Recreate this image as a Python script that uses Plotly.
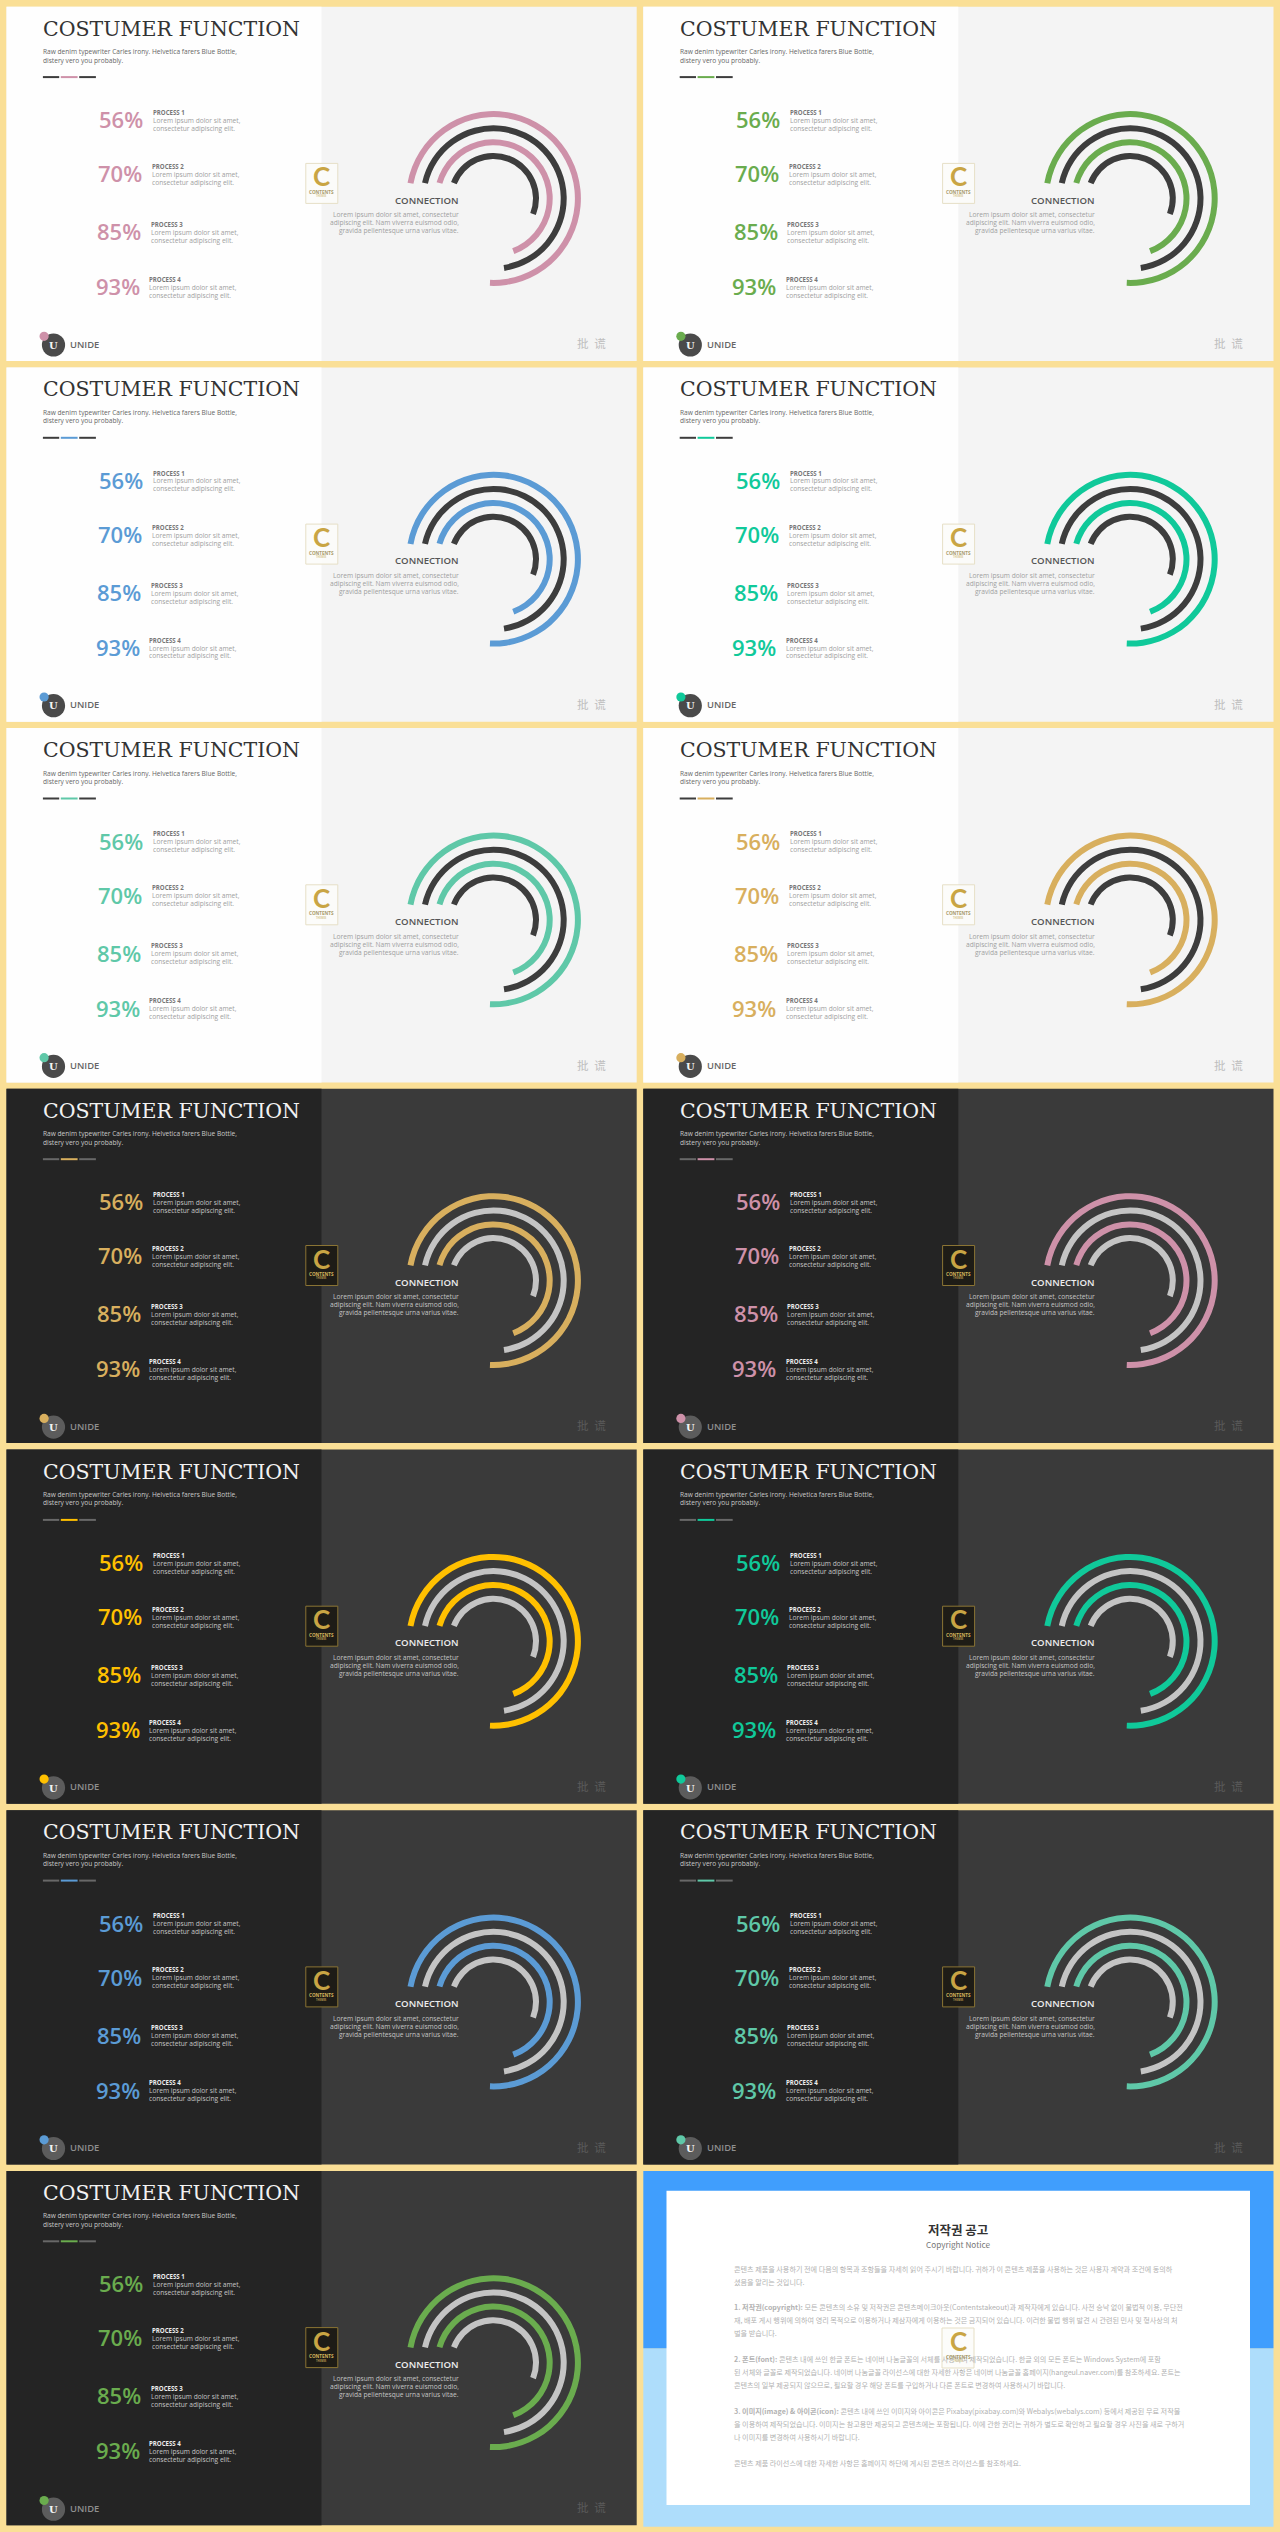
import plotly.graph_objects as go

W, H = 1280, 2532

# ---------- data ----------
title_text = "COSTUMER FUNCTION"
subtitle_lines = ["Raw denim typewriter Carles irony. Helvetica farers Blue Bottle,",
                  "distery vero you probably."]
percents = ["56%", "70%", "85%", "93%"]
process_labels = ["PROCESS 1", "PROCESS 2", "PROCESS 3", "PROCESS 4"]
process_body = ["Lorem ipsum dolor sit amet,", "consectetur adipiscing elit."]
connection_title = "CONNECTION"
connection_body = ["Lorem ipsum dolor sit amet, consectetur",
                   "adipiscing elit. Nam viverra euismod odio,",
                   "gravida pellentesque urna varius vitae."]
brand = "UNIDE"
corner_text = "批\u2002谎"

# rings, outermost first: radius, start angle (deg clockwise from top), sweep (deg)
ring_radius = [84.4, 70.2, 56.2, 42.5]
ring_start = [-79.6, -77.4, -74.0, -68.8]
ring_sweep = [262.0, 248.8, 233.4, 180.2]

panel_accent = ["#CE91A9", "#6AAC4E", "#5B9BD5", "#10C99A", "#5FC8A8", "#D8AF5E",
                "#D8AF5E", "#CE91A9", "#FFC000", "#10C99A", "#5B9BD5", "#5FC8A8", "#6AAC4E"]
panel_dark = [False] * 6 + [True] * 7

notice_title = "저작권 공고"
notice_sub = "Copyright Notice"
notice_lines = [
    ("콘텐츠 제품을 사용하기 전에 다음의 항목과 조항들을 자세히 읽어 주시기 바랍니다. 귀하가 이 콘텐츠 제품을 사용하는 것은 사용자 계약과 조건에 동의하", 0),
    ("셨음을 알리는 것입니다.", 0),
    ("<b>1. 저작권(copyright):</b> 모든 콘텐츠의 소유 및 저작권은 콘텐츠메이크아웃(Contentstakeout)과 제작자에게 있습니다. 사전 승낙 없이 불법적 이용, 무단전", 1),
    ("재, 배포 게시 행위에 의하여 영리 목적으로 이용하거나 제삼자에게 이용하는 것은 금지되어 있습니다. 이러한 불법 행위 발견 시 관련된 민사 및 형사상의 처", 1),
    ("벌을 받습니다.", 1),
    ("<b>2. 폰트(font):</b> 콘텐츠 내에 쓰인 한글 폰트는 네이버 나눔글꼴의 서체를 사용하여 제작되었습니다. 한글 외의 모든 폰트는 Windows System에 포함", 2),
    ("된 서체와 글꼴로 제작되었습니다. 네이버 나눔글꼴 라이선스에 대한 자세한 사항은 네이버 나눔글꼴 홈페이지(hangeul.naver.com)를 참조하세요. 폰트는", 2),
    ("콘텐츠의 일부 제공되지 않으므로, 필요할 경우 해당 폰트를 구입하거나 다른 폰트로 변경하여 사용하시기 바랍니다.", 2),
    ("<b>3. 이미지(image) & 아이콘(icon):</b> 콘텐츠 내에 쓰인 이미지와 아이콘은 Pixabay(pixabay.com)와 Webalys(webalys.com) 등에서 제공된 무료 저작물", 3),
    ("을 이용하여 제작되었습니다. 이미지는 참고용만 제공되고 콘텐츠에는 포함됩니다. 이에 관한 권리는 귀하가 별도로 확인하고 필요할 경우 사진을 새로 구하거", 3),
    ("나 이미지를 변경하여 사용하시기 바랍니다.", 3),
    ("콘텐츠 제품 라이선스에 대한 자세한 사항은 홈페이지 하단에 게시된 콘텐츠 라이선스를 참조하세요.", 4),
]

# ---------- layout constants ----------
BG = "#FADF96"
PANEL_W, PANEL_H = 630.2, 354.3
COL_X = [6.5, 643.3]
ROW_Y0, ROW_STEP = 6.7, 360.7


def fx(px):
    return px / W


def fy(py):
    return 1 - py / H


shapes, annots = [], []


def rect(x0, y0, x1, y1, fill, line=None, lw=0, kind="rect"):
    shapes.append(dict(type=kind, xref="paper", yref="paper", layer="below",
                       x0=fx(x0), x1=fx(x1), y0=fy(y0), y1=fy(y1), fillcolor=fill,
                       line=dict(color=line or fill, width=lw)))


def label(px, py, s, size, color, family="Open Sans", anchor="left", weight=None):
    f = dict(family=family, size=size, color=color)
    if weight:
        f["weight"] = weight
    annots.append(dict(x=fx(px), y=fy(py), xref="paper", yref="paper", text=s,
                       showarrow=False, xanchor=anchor, yanchor="middle", font=f,
                       borderpad=0, borderwidth=0))


def badge(cx, cy, dark):
    if dark:
        rect(cx - 16, cy - 20, cx + 16, cy + 20, "#1E1C16", "#8A7434", 1)
    else:
        rect(cx - 16, cy - 20, cx + 16, cy + 20, "rgba(252,252,250,0.9)", "#E6DFC6", 1)
    label(cx, cy - 7, "C", 26, "#C9A544", "Lato", "center", 700)
    label(cx, cy + 8.5, "CONTENTS", 4.6, "#D5B45C" if dark else "#A89A6A", "Open Sans", "center", 700)
    label(cx, cy + 13, "THEMES", 2.6, "#B0954C" if dark else "#D8C99A", "Open Sans", "center", 700)


fig = go.Figure()
polar_layouts = {}
pct_right = [136.5, 135.9, 134.3, 133.1]
text_left = [146.5, 145.7, 144.1, 142.5]
row_mid = [113.6, 167.6, 225.6, 280.6]

for i, (accent, dark) in enumerate(zip(panel_accent, panel_dark)):
    col, row = i % 2, i // 2
    x0, y0 = COL_X[col], ROW_Y0 + ROW_STEP * row
    if dark:
        left, right = "#242424", "#3A3A3A"
        c_title, c_sub, c_head, c_body = "#F2F2F2", "#C9C9C9", "#EDEDED", "#C4C4C4"
        c_ring, c_brand, c_corner, c_logo, c_dash = "#C4C4C4", "#8E8E8E", "#5A5A5A", "#5C5C5C", "#686868"
    else:
        left, right = "#FEFEFE", "#F4F4F4"
        c_title, c_sub, c_head, c_body = "#333333", "#666666", "#777777", "#A0A0A0"
        c_ring, c_brand, c_corner, c_logo, c_dash = "#3D3D3D", "#666666", "#BEBEBE", "#4A4A4A", "#3D3D3D"

    rect(x0, y0, x0 + PANEL_W, y0 + PANEL_H, right)
    rect(x0, y0, x0 + 315, y0 + PANEL_H, left)

    label(x0 + 36.4, y0 + 22, title_text, 20.5, c_title, "DejaVu Serif")
    for k, s in enumerate(subtitle_lines):
        label(x0 + 36.4, y0 + 45 + 8.3 * k, s, 6.6, c_sub)
    for k, (a, b) in enumerate([(36.4, 52.7), (54.3, 71.1), (72.7, 89.4)]):
        rect(x0 + a, y0 + 69.4, x0 + b, y0 + 71.4, accent if k == 1 else c_dash)

    for k in range(4):
        m = y0 + row_mid[k]
        label(x0 + pct_right[k], m - 1, percents[k], 22, accent, "Open Sans", "right", 600)
        label(x0 + text_left[k], m - 7.9, process_labels[k], 6.1, c_head, "Open Sans", "left", 700)
        for j, s in enumerate(process_body):
            label(x0 + text_left[k], m + 8 * j, s, 6.65, c_body)

    label(x0 + 452, y0 + 193.3, connection_title, 9.6, c_head if dark else "#555555", "Open Sans", "right", 600)
    for j, s in enumerate(connection_body):
        label(x0 + 452, y0 + 208 + 8 * j, s, 6.65, c_body, "Open Sans", "right")

    rect(x0 + 35.4, y0 + 326.7, x0 + 58.6, y0 + 349.9, c_logo, kind="circle")
    rect(x0 + 33, y0 + 325, x0 + 42.2, y0 + 334.2, accent, kind="circle")
    label(x0 + 47, y0 + 338.5, "U", 10, "#F4F4F4", "DejaVu Serif", "center", 700)
    label(x0 + 63.5, y0 + 337.3, brand, 9.4, c_brand, "Open Sans", "left", 600)
    label(x0 + 599.5, y0 + 336.5, corner_text, 11.5, c_corner, "Noto Sans CJK SC", "right")

    badge(x0 + 315.3, y0 + 176.7, dark)

    # rings
    cx, cy, R = x0 + 487, y0 + 191.8, 90
    name = "polar" if i == 0 else f"polar{i + 1}"
    polar_layouts[name] = dict(
        domain=dict(x=[fx(cx - R), fx(cx + R)], y=[fy(cy + R), fy(cy - R)]),
        bgcolor="rgba(0,0,0,0)", barmode="overlay",
        radialaxis=dict(range=[0, R], visible=False),
        angularaxis=dict(rotation=90, direction="clockwise", visible=False),
    )
    fig.add_trace(go.Barpolar(
        subplot=name,
        r=[6] * 4,
        base=[r - 3 for r in ring_radius],
        theta=[s + w / 2 for s, w in zip(ring_start, ring_sweep)],
        width=ring_sweep,
        marker=dict(color=[accent, c_ring, accent, c_ring], line=dict(width=0)),
        hoverinfo="skip", showlegend=False,
    ))

# ---------- copyright panel ----------
nx0, ny0 = COL_X[1], ROW_Y0 + ROW_STEP * 6
rect(nx0, ny0 + 177.4, nx0 + PANEL_W, ny0 + PANEL_H + 1.5, "#AEDDFB")
rect(nx0, ny0, nx0 + PANEL_W, ny0 + 177.4, "#409EFD")
rect(666.5, 2190.7, 1250, 2505, "#FFFFFF")
label(958, 2229, notice_title, 12.5, "#333333", "Noto Sans CJK KR", "center", 700)
label(958, 2244, notice_sub, 8.2, "#777777", "Noto Sans CJK KR", "center")
para_top = [2268.7, 2307.3, 2359.3, 2411.0, 2463.3]
seen = {}
for s, p in notice_lines:
    n = seen.get(p, 0)
    seen[p] = n + 1
    label(733.9, para_top[p] + 13 * n, s, 7.1, "#B2B2B2", "Noto Sans CJK KR")
badge(958, 2348, False)

fig.update_layout(
    width=W, height=H, margin=dict(l=0, r=0, t=0, b=0, pad=0),
    paper_bgcolor=BG, plot_bgcolor=BG, showlegend=False,
    shapes=shapes, annotations=annots, **polar_layouts,
)
fig.write_html("out.html", config=dict(displayModeBar=False, responsive=False),
               post_script="document.documentElement.style.margin='0';document.body.style.margin='0';document.body.style.overflow='hidden';")
